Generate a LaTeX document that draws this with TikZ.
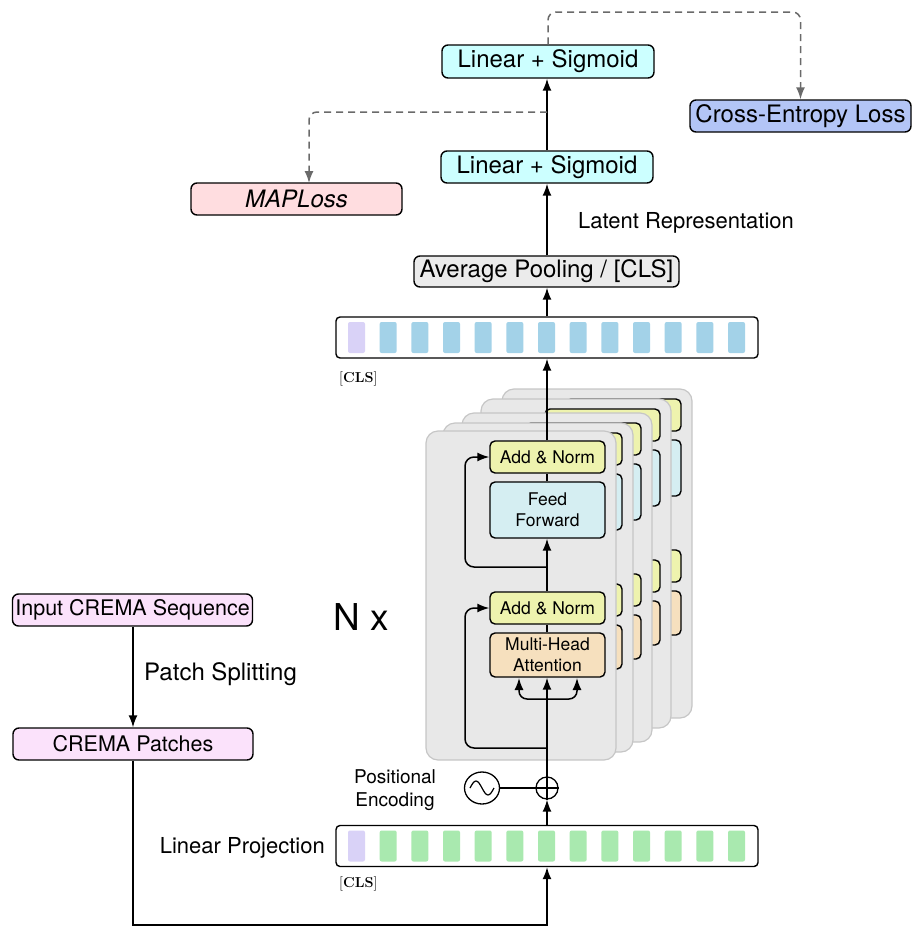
\documentclass[tikz,border=0pt]{standalone}
\usepackage[no-math]{fontspec}
\setmainfont{TeX Gyre Heros}
\usetikzlibrary{arrows.meta,calc,shapes.geometric}
\definecolor{lscyan}{HTML}{CCFFFF}
\definecolor{cepurple}{HTML}{B3C5F6}
\definecolor{mappink}{HTML}{FFDDE0}
\definecolor{poolgray}{HTML}{EBEBEB}
\definecolor{cremapink}{HTML}{FBE2FB}
\definecolor{cardgray}{HTML}{E8E8E8}
\definecolor{cardedge}{HTML}{C6C6C6}
\definecolor{addyellow}{HTML}{EEF3AE}
\definecolor{ffblue}{HTML}{D5EEF2}
\definecolor{mhaorange}{HTML}{F6E0BE}
\definecolor{tokblue}{HTML}{A3D2E8}
\definecolor{tokpurple}{HTML}{D9D2F7}
\definecolor{tokgreen}{HTML}{A9E9AF}
\definecolor{dashgray}{HTML}{6A6A6A}
\tikzset{
  bigbox/.style={draw=black, line width=1.4pt, rounded corners=6pt, inner sep=0pt,
    font=\fontsize{24}{28}\selectfont},
  smallbox/.style={draw=black, line width=1.4pt, rounded corners=5pt, inner sep=0pt,
    minimum width=115pt, align=center, font=\fontsize{17.5}{21}\selectfont},
  bar/.style={draw=black, line width=1.4pt, rounded corners=4pt, fill=white,
    minimum width=422pt, minimum height=41pt, inner sep=0pt},
  token/.style={rounded corners=2pt, minimum width=17pt, minimum height=31pt, inner sep=0pt},
  card/.style={fill=cardgray, draw=cardedge, line width=1.2pt, rounded corners=12pt},
  arr/.style={line width=1.5pt, -{Latex[length=12pt,width=9pt]}},
  ln/.style={line width=1.5pt},
  dsh/.style={line width=1.5pt, draw=dashgray, dash pattern=on 7pt off 5pt,
    rounded corners=8pt, -{Latex[length=12pt,width=9pt]}, color=dashgray},
  lbl/.style={inner sep=0pt, font=\fontsize{22}{26}\selectfont},
  cls/.style={inner sep=0pt, font=\fontsize{14.5}{16}\selectfont},
}
\begin{document}
\begin{tikzpicture}[x=1pt,y=-1pt]
\useasboundingbox (0,0) rectangle (913,927);

% ---- top part
\node[bigbox, fill=lscyan, minimum width=212pt, minimum height=33pt] (ls2) at (548,61.5) {Linear + Sigmoid};
\node[bigbox, fill=lscyan, minimum width=212pt, minimum height=32pt] (ls1) at (547,167) {Linear + Sigmoid};
\node[bigbox, fill=cepurple, minimum width=221pt, minimum height=32pt] (ce) at (800.5,116) {Cross-Entropy Loss};
\node[bigbox, fill=mappink, minimum width=211pt, minimum height=32pt] (map) at (296.5,199) {\itshape MAPLoss};
\node[bigbox, fill=poolgray, minimum width=265pt, minimum height=31pt] (pool) at (546.5,271.5) {Average Pooling / [CLS]};
\node[lbl, anchor=west] (latent) at (578,223) {Latent Representation};

\draw[arr] (ls1.north -| 547,0) -- (ls2.south -| 547,0);
\draw[arr] (pool.north -| 547,0) -- (ls1.south -| 547,0);

\coordinate (ceup) at (548,12);
\draw[dsh] (ls2.north) -- (ceup) -| (ce.north);
\coordinate (mapsplit) at (547,112);
\coordinate (mapin) at (309,183);
\draw[dsh] (mapsplit) -| (mapin);

% ---- top token bar
\node[bar] (topbar) at (547,337.5) {};
\foreach \i in {0,...,12} {
  \pgfmathsetmacro\tx{356.5+31.67*\i}
  \ifnum\i=0
    \node[token, fill=tokpurple] (tt\i) at (\tx,337.5) {};
  \else
    \node[token, fill=tokblue] (tt\i) at (\tx,337.5) {};
  \fi
}
\node[cls, anchor=west] (clstop) at (339,379) {$[\mathbf{CLS}]$};
\draw[arr] (topbar.north) -- (pool.south -| topbar.north);

% ---- stacked encoder cards (back to front)
\foreach \dx/\dy in {76/-42, 55/-32, 36/-18, 17/-8} {
  \begin{scope}[shift={(\dx,\dy)}]
    \path[card] (426,431) rectangle (616,760);
    \path[draw=black, line width=1.4pt, rounded corners=5pt, fill=addyellow] (490,441) rectangle (605,473);
    \path[draw=black, line width=1.4pt, rounded corners=5pt, fill=ffblue] (490,482) rectangle (605,538);
    \path[draw=black, line width=1.4pt, rounded corners=5pt, fill=addyellow] (490,592) rectangle (605,624);
    \path[draw=black, line width=1.4pt, rounded corners=5pt, fill=mhaorange] (490,633) rectangle (605,677);
  \end{scope}
}
\path[card] (426,431) rectangle (616,760);
\node[smallbox, fill=addyellow, minimum height=32pt] (an1) at (547.5,457) {Add \& Norm};
\node[smallbox, fill=ffblue, minimum height=56pt] (ff) at (547.5,510) {Feed\\Forward};
\node[smallbox, fill=addyellow, minimum height=32pt] (an2) at (547.5,608) {Add \& Norm};
\node[smallbox, fill=mhaorange, minimum height=44pt] (mha) at (547.5,655) {Multi-Head\\Attention};

\node[inner sep=0pt, font=\fontsize{37}{40}\selectfont] (nx) at (361,617) {N x};

% ---- positional encoding
\node[draw=black, line width=1.3pt, circle, minimum size=22pt, inner sep=0pt] (plus) at (547,788) {};
\draw[line width=1.1pt] (plus.north) -- (plus.south) (plus.west) -- (plus.east);
\node[draw=black, line width=1.3pt, ellipse, minimum width=35pt, minimum height=32pt, inner sep=0pt] (wave) at (482,788) {};
\draw[line width=1.2pt] (470,788) sin (476,781) cos (482,788) sin (488,795) cos (494,788);
\draw[ln] (wave.east) -- (plus.west);
\node[inner sep=0pt, align=center, font=\fontsize{19}{23}\selectfont] (posenc) at (395,790) {Positional\\Encoding};

% ---- main flow inside card
\draw[ln] (plus.north) -- (547,699);
\draw[arr] (547,699) -- (mha.south -| 547,0);
\coordinate (mhal) at (519,678);
\coordinate (mhar) at (577,678);
\draw[arr, rounded corners=8pt] (547,699) -| (mhal);
\draw[arr, rounded corners=8pt] (547,699) -| (mhar);
\draw[ln] (mha.north -| 547,0) -- (an2.south -| 547,0);
\draw[arr] (an2.north -| 547,0) -- (ff.south -| 547,0);
\draw[ln] (ff.north -| 547,0) -- (an1.south -| 547,0);
\draw[arr] (an1.north -| 547,0) -- (topbar.south);
\coordinate (res1) at (547,748);
\coordinate (res2) at (547,567);
\draw[arr, rounded corners=9pt] (res1) -- (465,748) -- (465,608) -- (an2.west);
\draw[arr, rounded corners=9pt] (res2) -- (465,567) -- (465,457) -- (an1.west);

% ---- bottom token bar
\node[bar] (botbar) at (547,846) {};
\foreach \i in {0,...,12} {
  \pgfmathsetmacro\tx{356.5+31.67*\i}
  \ifnum\i=0
    \node[token, fill=tokpurple] (bt\i) at (\tx,846) {};
  \else
    \node[token, fill=tokgreen] (bt\i) at (\tx,846) {};
  \fi
}
\node[cls, anchor=west] (clsbot) at (339,884) {$[\mathbf{CLS}]$};
\node[lbl, anchor=east] (linproj) at (325,848) {Linear Projection};
\draw[arr] (botbar.north) -- (plus.south);

% ---- left inputs
\node[bigbox, fill=cremapink, minimum width=240pt, minimum height=32pt, font=\fontsize{21.5}{25}\selectfont] (inseq) at (132.5,610) {Input CREMA Sequence};
\node[bigbox, fill=cremapink, minimum width=240pt, minimum height=32pt, font=\fontsize{21.5}{25}\selectfont] (patches) at (133,744) {CREMA Patches};
\draw[arr] (inseq.south -| 133,0) -- (patches.north -| 133,0);
\node[lbl, anchor=west, font=\fontsize{24}{28}\selectfont] (psplit) at (144,674) {Patch Splitting};
\coordinate (bl) at (133,925);
\coordinate (br) at (547,925);
\draw[arr] (patches.south -| 133,0) -- (bl) -- (br) -- (botbar.south);
\end{tikzpicture}
\end{document}
